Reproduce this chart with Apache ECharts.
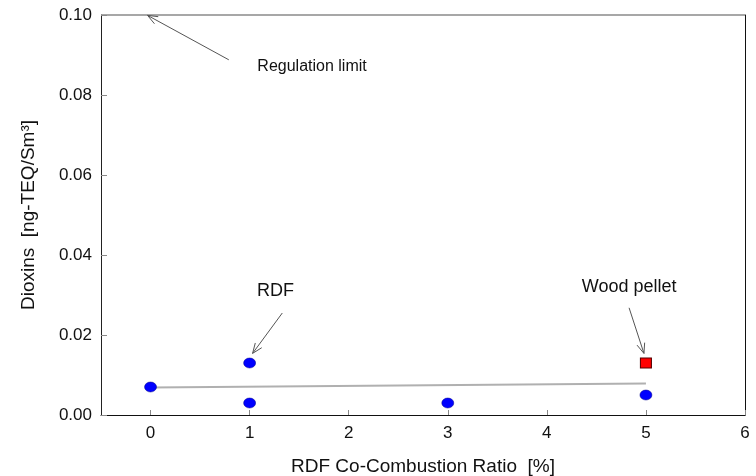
<!DOCTYPE html>
<html>
<head>
<meta charset="utf-8">
<script src="https://cdn.jsdelivr.net/npm/echarts@6/dist/echarts.min.js"></script>
<style>
html,body{margin:0;padding:0;background:#fff;}
#c{width:756px;height:476px;}
</style>
</head>
<body>
<div id="c"></div>
<script>
// ---- data ----
const xTickValues = [0, 1, 2, 3, 4, 5, 6];
const yTickLabels = ['0.00', '0.02', '0.04', '0.06', '0.08', '0.10'];
const rdfX = [0, 1, 1, 3, 5];
const rdfY = [0.007, 0.013, 0.003, 0.003, 0.005];
const woodX = [5];
const woodY = [0.013];
const trendX = [0, 5];
const trendY = [0.0069, 0.0079];
const limitX = [-0.5, 6];
const limitY = [0.10, 0.10];
// annotation arrows: tail x, tail y, tip x, tip y
const arrowTailX = [0.79, 1.33, 4.83];
const arrowTailY = [0.0888, 0.0255, 0.0268];
const arrowTipX = [-0.03, 1.03, 4.98];
const arrowTipY = [0.0999, 0.0154, 0.0154];
// annotation texts
const noteTexts = ['Regulation limit', 'RDF', 'Wood pellet'];
const noteX = [1.63, 1.26, 4.83];
const noteY = [0.0870, 0.0310, 0.0320];
const noteSizes = [16, 18, 18];

const FONT = "'Liberation Sans', Arial, sans-serif";
const chart = echarts.init(document.getElementById('c'));

const zip = (a, b) => a.map((v, i) => [v, b[i]]);

chart.setOption({
  animation: false,
  backgroundColor: '#fff',
  grid: { left: 101, right: 11, top: 15, bottom: 61, containLabel: false, outerBoundsMode: 'none' },
  xAxis: {
    type: 'value',
    min: -0.5,
    max: 6,
    name: 'RDF Co-Combustion Ratio  [%]',
    nameLocation: 'middle',
    nameGap: 42,
    nameTextStyle: { fontFamily: FONT, fontSize: 19, color: '#111' },
    axisLine: { show: true, onZero: false, lineStyle: { color: '#111', width: 1 } },
    axisTick: { show: true, inside: true, length: 5, customValues: xTickValues, lineStyle: { color: '#888' } },
    axisLabel: { customValues: xTickValues, margin: 10, fontFamily: FONT, fontSize: 17, color: '#111' },
    splitLine: { show: false }
  },
  yAxis: [{
    type: 'value',
    min: 0,
    max: 0.1,
    interval: 0.02,
    name: 'Dioxins  [ng-TEQ/Sm³]',
    nameLocation: 'middle',
    nameGap: 63,
    nameTextStyle: { fontFamily: FONT, fontSize: 19, color: '#111' },
    axisLine: { show: true, onZero: false, lineStyle: { color: '#222', width: 1 } },
    axisTick: { show: true, inside: true, length: 6, lineStyle: { color: '#888' } },
    axisLabel: {
      margin: 9, fontFamily: FONT, fontSize: 17, color: '#111',
      formatter: (v) => yTickLabels[Math.round(v / 0.02)]
    },
    splitLine: { show: false }
  }, {
    type: 'value',
    min: 0,
    max: 0.1,
    position: 'right',
    axisLine: { show: true, onZero: false, lineStyle: { color: '#111', width: 1 } },
    axisTick: { show: false },
    axisLabel: { show: false },
    splitLine: { show: false }
  }],
  series: [
    {
      type: 'line',
      data: zip(limitX, limitY),
      symbol: 'none',
      clip: false,
      lineStyle: { color: '#8a8a8a', width: 1.5 },
      z: 3
    },
    {
      type: 'line',
      data: zip(trendX, trendY),
      symbol: 'none',
      lineStyle: { color: '#b0b0b0', width: 2 },
      z: 2
    },
    {
      type: 'scatter',
      data: zip(rdfX, rdfY),
      symbol: 'circle',
      symbolSize: [12, 10],
      itemStyle: { color: '#0000ff', borderColor: '#00008a', borderWidth: 0.5, opacity: 1 },
      z: 5
    },
    {
      type: 'scatter',
      data: zip(woodX, woodY),
      symbol: 'rect',
      symbolSize: [11, 10],
      itemStyle: { color: '#ff0000', borderColor: '#550000', borderWidth: 1, opacity: 1 },
      z: 5
    },
    {
      type: 'custom',
      data: arrowTailX.map((v, i) => [v, arrowTailY[i], arrowTipX[i], arrowTipY[i]]),
      encode: { x: [0, 2], y: [1, 3] },
      clip: false,
      z: 6,
      renderItem: function (params, api) {
        const a = api.coord([api.value(0), api.value(1)]);
        const b = api.coord([api.value(2), api.value(3)]);
        const dx = b[0] - a[0], dy = b[1] - a[1];
        const len = Math.sqrt(dx * dx + dy * dy);
        const ux = dx / len, uy = dy / len;
        const h = 10, w = 4;
        const p1 = [b[0] - ux * h - uy * w, b[1] - uy * h + ux * w];
        const p2 = [b[0] - ux * h + uy * w, b[1] - uy * h - ux * w];
        const st = { stroke: '#555', lineWidth: 1, fill: 'none' };
        return {
          type: 'group',
          children: [
            { type: 'line', shape: { x1: a[0], y1: a[1], x2: b[0], y2: b[1] }, style: st },
            { type: 'polyline', shape: { points: [p1, b, p2] }, style: st }
          ]
        };
      }
    },
    {
      type: 'custom',
      data: noteX.map((v, i) => [v, noteY[i]]),
      encode: { x: 0, y: 1 },
      clip: false,
      z: 7,
      renderItem: function (params, api) {
        const p = api.coord([api.value(0), api.value(1)]);
        return {
          type: 'text',
          style: {
            text: noteTexts[params.dataIndex],
            x: p[0], y: p[1],
            align: 'center', verticalAlign: 'middle',
            fontFamily: FONT,
            fontSize: noteSizes[params.dataIndex],
            fill: '#111'
          }
        };
      }
    }
  ]
});
</script>
</body>
</html>
